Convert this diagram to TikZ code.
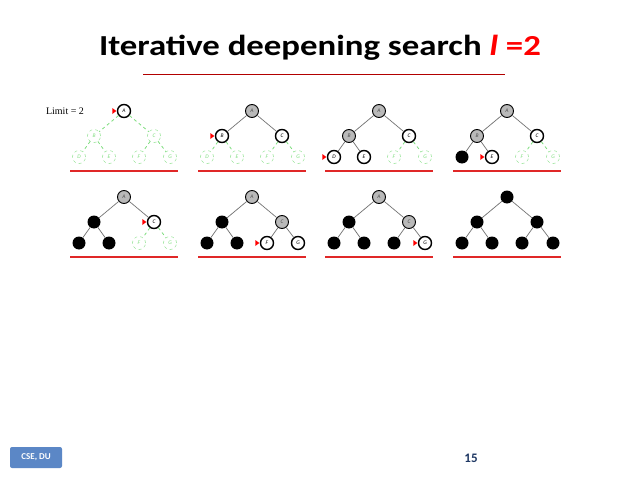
\documentclass[tikz,border=0pt]{standalone}
\usepackage{fontspec}
\setmainfont{Carlito}
\newfontfamily\limitfont{Liberation Serif}
\usepackage{tikz}
\usetikzlibrary{shapes.geometric}
\definecolor{srchgreen}{HTML}{7DDD7D}
\definecolor{edgegray}{HTML}{707070}
\definecolor{limitred}{HTML}{E02828}
\definecolor{boxblue}{HTML}{5B87C6}
\definecolor{navytext}{HTML}{1F3864}
\tikzset{
  vtx/.style = {circle, inner sep = 0, minimum size = 13, font = \fontsize{5.5}{5.5}\selectfont\itshape},
  unseen/.style = {vtx, draw = srchgreen, dashed, text = srchgreen},
  fringe/.style = {vtx, draw, fill = white, line width = 1.4},
  expanded/.style = {vtx, draw, fill = gray!55, line width = 0.9, text = black!70},
  closed/.style = {vtx, fill = black},
  ptr/.style = {isosceles triangle, fill = red, draw = none, inner sep = 0, minimum width = 6, minimum height = 4, isosceles triangle stretches},
  current/.style = {fringe, label = {[ptr, label distance = 0]180:{}}},
  unseenedge/.style = {srchgreen, dashed, line width = 0.8},
  fringeedge/.style = {edgegray, line width = 0.7},
  currentedge/.style = {fringeedge},
  expandededge/.style = {fringeedge},
  closededge/.style = {fringeedge},
  limitline/.style = {limitred, line width = 1.8}
}
% #1 prefix, #2 root position, #3..#9 states of A..G
\newcommand{\idstree}[9]{%
  \node [#3] (#1a) at (#2) {A};
  \node [#4] (#1b) at ([shift={(-30,25)}]#1a) {B};
  \node [#5] (#1c) at ([shift={(30,25)}]#1a) {C};
  \node [#6] (#1d) at ([shift={(-45,46)}]#1a) {D};
  \node [#7] (#1e) at ([shift={(-15,46)}]#1a) {E};
  \node [#8] (#1f) at ([shift={(15,46)}]#1a) {F};
  \node [#9] (#1g) at ([shift={(46,46)}]#1a) {G};
  \draw [#4edge] (#1a) -- (#1b);
  \draw [#5edge] (#1a) -- (#1c);
  \draw [#6edge] (#1b) -- (#1d);
  \draw [#7edge] (#1b) -- (#1e);
  \draw [#8edge] (#1c) -- (#1f);
  \draw [#9edge] (#1c) -- (#1g);
  \draw [limitline] ([shift={(-54,60)}]#1a.center) -- ([shift={(54,60)}]#1a.center);
}
\begin{document}
\begin{tikzpicture}[x = 1pt, y = -1pt]
  \useasboundingbox [fill = white] (0, 0) rectangle (638, 479);

  \node [anchor = base, xscale = 1.2, transform shape, font = \fontsize{29}{31}\selectfont\bfseries, inner sep = 0] (title) at (320, 56)
    {Iterative deepening search \textcolor{red}{\textit{l} =2}};
  \draw [red!70!black, line width = 0.8] (143, 74) -- (505, 74);

  \node [font = \fontsize{10}{10}\limitfont] (limit) at (65, 111) {Limit = 2};

  \idstree{p}{124, 111}{current}{unseen}{unseen}{unseen}{unseen}{unseen}{unseen}
  \idstree{q}{252, 111}{expanded}{current}{fringe}{unseen}{unseen}{unseen}{unseen}
  \idstree{r}{379, 111}{expanded}{expanded}{fringe}{current}{fringe}{unseen}{unseen}
  \idstree{s}{507, 111}{expanded}{expanded}{fringe}{closed}{current}{unseen}{unseen}

  \idstree{t}{124, 197}{expanded}{closed}{current}{closed}{closed}{unseen}{unseen}
  \idstree{u}{252, 197}{expanded}{closed}{expanded}{closed}{closed}{current}{fringe}
  \idstree{v}{379, 197}{expanded}{closed}{expanded}{closed}{closed}{closed}{current}
  \idstree{w}{507, 197}{closed}{closed}{closed}{closed}{closed}{closed}{closed}

  \node [fill = boxblue, rounded corners = 2, minimum width = 52, minimum height = 21, text = white, font = \fontsize{9}{9}\selectfont\bfseries] (org) at (36, 457.5) {CSE, DU};
  \node [text = navytext, font = \fontsize{13}{13}\selectfont\bfseries] (page) at (471, 458) {15};
\end{tikzpicture}
\end{document}
